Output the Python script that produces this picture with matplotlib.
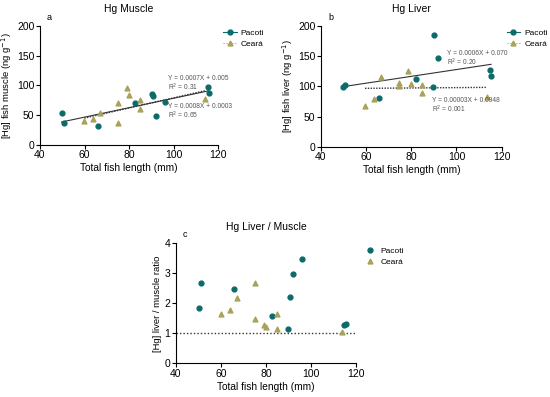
import numpy as np
import matplotlib
matplotlib.use("Agg")
import matplotlib.pyplot as plt

plt.rcParams['font.family'] = ['Liberation Sans', 'DejaVu Sans']

# Colours of the two sites
teal = '#0b6b68'
khaki = '#a8a25a'

# Panel a - Hg in muscle (ng/g) vs total length (mm)
a_pac_len = [49.7, 50.8, 65.9, 82.6, 90.1, 90.8, 96.0, 92.2, 115.5, 115.8]
a_pac_hg = [53, 37.5, 32.5, 70, 85.7, 82.4, 71.7, 49.3, 97.5, 87.4]
a_cea_len = [59.9, 63.9, 66.9, 74.8, 75.1, 78.9, 80.1, 85.1, 85.0, 114.0]
a_cea_hg = [39.8, 44.3, 53.2, 70.6, 36.4, 96.4, 84.6, 76.2, 61.0, 77.9]

# Panel b - Hg in liver (ng/g)
b_pac_len = [49.6, 50.5, 65.5, 82.2, 89.6, 90.2, 91.7, 114.8, 115.3]
b_pac_hg = [98.3, 102.2, 81.2, 111.6, 98.3, 184.5, 147, 126.5, 117]
b_cea_len = [59.5, 63.5, 66.6, 74.5, 74.5, 78.7, 79.7, 84.6, 84.6, 113.4]
b_cea_hg = [67.4, 79.6, 116, 106, 100.6, 126, 103.9, 102.2, 89.5, 82.9]

# Panel c - liver / muscle ratio
c_pac_len = [50.1, 51.1, 66.0, 82.6, 90.0, 90.7, 91.9, 95.9, 114.8, 115.6]
c_pac_ratio = [1.83, 2.69, 2.49, 1.58, 1.14, 2.22, 2.98, 3.48, 1.28, 1.32]
c_cea_len = [60.0, 64.0, 67.1, 75.0, 75.0, 79.0, 79.9, 85.0, 85.1, 113.6]
c_cea_ratio = [1.66, 1.79, 2.18, 2.69, 1.48, 1.29, 1.21, 1.64, 1.16, 1.04]

# Regression lines as drawn in the figure (start/end y values)
a_pac_line = [38.5, 91]
a_cea_line = [45, 91]
b_pac_line = [99.4, 136.5]
b_cea_line = [96.7, 98.3]

a_eqs = [("Y = 0.0007X + 0.005", "R$^2$ = 0.31"), ("Y = 0.0008X + 0.0003", "R$^2$ = 0.65")]
b_eqs = [("Y = 0.0006X + 0.070", "R$^2$ = 0.20"), ("Y = 0.00003X + 0.0948", "R$^2$ = 0.001")]

fig = plt.figure(figsize=(5.5, 3.97), dpi=100)
ax_a = fig.add_axes([0.0727, 0.635, 0.324, 0.2997])
ax_b = fig.add_axes([0.5836, 0.6305, 0.3285, 0.304])
ax_c = fig.add_axes([0.3195, 0.0849, 0.328, 0.302])


def style(ax, ymax, yticks, ylabel, title, letter):
    ax.set_xlim(40, 120)
    ax.set_xticks([40, 60, 80, 100, 120])
    ax.set_ylim(0, ymax)
    ax.set_yticks(yticks)
    for s in ['top', 'right']:
        ax.spines[s].set_visible(False)
    for s in ['left', 'bottom']:
        ax.spines[s].set_linewidth(0.8)
    ax.tick_params(labelsize=7.5, length=3, width=0.8, pad=1)
    ax.set_xlabel("Total fish length (mm)", fontsize=7.3, labelpad=2)
    ax.set_ylabel(ylabel, fontsize=6.8, labelpad=2)
    ax.set_title(title, fontsize=7.5, pad=10)
    ax.text(0.04, 1.05, letter, transform=ax.transAxes, fontsize=6.5)


def scatter(ax, pl, ph, cl, ch, pac_line=None, cea_line=None):
    if pac_line is not None:
        ax.plot([min(pl), max(pl)], pac_line, color='#333333', lw=0.8, zorder=1)
        ax.plot([min(cl), max(cl)], cea_line, color='#333333', lw=1.0, ls=(0, (1, 1)), zorder=1)
    ax.scatter(pl, ph, s=12, marker='o', color=teal, zorder=3)
    ax.scatter(cl, ch, s=12, marker='^', color=khaki, zorder=3)


def equation(ax, x, y1, y2, lines):
    ax.text(x, y1, lines[0], fontsize=4.8, color='#555555', va='center', zorder=4)
    ax.text(x, y2, lines[1], fontsize=4.8, color='#555555', va='center', zorder=4)


# a
scatter(ax_a, a_pac_len, a_pac_hg, a_cea_len, a_cea_hg, a_pac_line, a_cea_line)
style(ax_a, 200, [0, 50, 100, 150, 200], "[Hg] fish muscle (ng g$^{-1}$)", "Hg Muscle", "a")
equation(ax_a, 97.4, 111, 96, a_eqs[0])
equation(ax_a, 97.4, 64, 49, a_eqs[1])

# b
scatter(ax_b, b_pac_len, b_pac_hg, b_cea_len, b_cea_hg, b_pac_line, b_cea_line)
style(ax_b, 200, [0, 50, 100, 150, 200], "[Hg] fish liver (ng g$^{-1}$)", "Hg Liver", "b")
equation(ax_b, 95.8, 155, 140, b_eqs[0])
equation(ax_b, 89.1, 77, 62, b_eqs[1])

# c
scatter(ax_c, c_pac_len, c_pac_ratio, c_cea_len, c_cea_ratio)
ax_c.axhline(1, color='#333333', lw=1.0, ls=(0, (1, 1.5)), zorder=1)
style(ax_c, 4, [0, 1, 2, 3, 4], "[Hg] liver / muscle ratio", "Hg Liver / Muscle", "c")


# legends
def legend(ax, with_lines, x):
    ls1 = '-' if with_lines else 'none'
    ls2 = ':' if with_lines else 'none'
    h1, = ax.plot([], [], marker='o', ms=3.5, color=teal, ls=ls1, lw=0.8, mec=teal)
    h2, = ax.plot([], [], marker='^', ms=3.5, color=khaki, ls=ls2, lw=0.8, mec=khaki)
    ax.legend([h1, h2], ["Pacoti", "Ceará"], loc='upper left', bbox_to_anchor=(x, 1.0),
              frameon=False, fontsize=6, handlelength=1.6, handletextpad=0.5,
              labelspacing=0.4, borderaxespad=0)


legend(ax_a, True, 1.01)
legend(ax_b, True, 1.01)
legend(ax_c, False, 1.02)

fig.savefig("out.png", dpi=100)
